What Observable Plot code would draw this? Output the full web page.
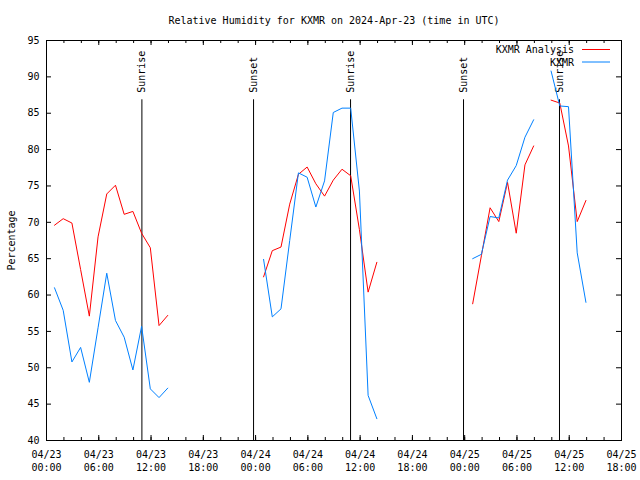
<!DOCTYPE html>
<html><head><meta charset="utf-8">
<script src="https://cdn.jsdelivr.net/npm/d3@7"></script>
<script src="https://cdn.jsdelivr.net/npm/@observablehq/plot@0.6"></script>
<style>body{margin:0;background:#fff}</style>
</head><body><div id="chart"></div>
<script>
const title = "Relative Humidity for KXMR on 2024-Apr-23 (time in UTC)";
const yLabel = "Percentage";
const seriesNames = ["KXMR Analysis", "KXMR"];
const seriesColors = ["#ff0000", "#0080ff"];
const dayStarts = ["2024-04-23T00:55Z", "2024-04-24T00:55Z", "2024-04-25T00:55Z"];
// hourly values, one per hour from each day start (null = missing)
const analysisDay1 = [69.6, 70.5, 69.9, 63.5, 57.1, 68.0, 73.9, 75.1, 71.1, 71.5, 68.5, 66.5, 55.8, 57.2];
const analysisDay2 = [62.5, 66.1, 66.6, 72.5, 76.6, 77.6, 75.3, 73.6, 75.8, 77.3, 76.4, 69.0, 60.4, 64.5];
const analysisDay3 = [58.8, 65.4, 72.0, 70.1, 75.5, 68.5, 77.9, 80.5, null, 86.8, 86.4, 80.5, 70.1, 73.0];
const obsDay1 = [61.0, 57.9, 50.8, 52.8, 48.0, 55.5, 63.0, 56.5, 54.2, 49.7, 55.7, 47.1, 45.9, 47.2];
const obsDay2 = [64.9, 57.0, 58.1, 67.5, 76.8, 76.2, 72.1, 75.7, 85.1, 85.7, 85.7, 74.3, 46.2, 43.0];
const obsDay3 = [65.0, 65.6, 70.8, 70.6, 75.8, 77.8, 81.7, 84.1, null, 90.8, 86.0, 85.9, 65.8, 59.0];
const eventTimes = ["2024-04-23T10:57Z", "2024-04-23T23:46Z", "2024-04-24T10:54Z", "2024-04-24T23:52Z", "2024-04-25T10:53Z"];
const eventLabels = ["Sunrise", "Sunset", "Sunrise", "Sunset", "Sunrise"];
const eventLineTop = 86.85;
const eventLabelY = 87.8;
const xDomain = ["2024-04-23T00:00Z", "2024-04-25T18:00Z"];
const yDomain = [40, 95];
const yTicks = [40, 45, 50, 55, 60, 65, 70, 75, 80, 85, 90, 95];

function build(days) {
  const out = [];
  days.forEach((vals, d) => {
    const t0 = new Date(dayStarts[d]).getTime();
    vals.forEach((v, i) => out.push({time: new Date(t0 + i * 3600e3), value: v, day: d}));
  });
  return out;
}
const analysis = build([analysisDay1, analysisDay2, analysisDay3]);
const obs = build([obsDay1, obsDay2, obsDay3]);
const events = eventTimes.map((t, i) => ({time: new Date(t), label: eventLabels[i]}));

const x0 = new Date(xDomain[0]), x1 = new Date(xDomain[1]);
const majorTicks = d3.utcHour.every(6).range(x0, new Date(+x1 + 1));
const minorTicks = d3.utcHour.every(2).range(x0, new Date(+x1 + 1));
const fmt = d3.utcFormat("%m/%d\n%H:%M");

const W = 640, H = 480, mL = 46, mR = 19, mT = 40, mB = 40;
const innerH = H - mT - mB, innerW = W - mL - mR;

const plot = Plot.plot({
  width: W, height: H,
  marginLeft: mL, marginRight: mR, marginTop: mT, marginBottom: mB,
  style: {fontFamily: "'DejaVu Sans Mono', monospace", fontSize: "10px", background: "#fff", color: "#000"},
  x: {type: "utc", domain: [x0, x1]},
  y: {domain: yDomain},
  marks: [
    Plot.axisX(majorTicks, {tickSize: 0, tickPadding: 8, tickFormat: fmt, lineHeight: 1.33, label: null, fontSize: 10}),
    Plot.axisY(yTicks, {tickSize: 0, tickPadding: 7, label: null, fontSize: 10}),
    Plot.tickX(minorTicks, {x: d => d, insetTop: innerH - 3, stroke: "#000"}),
    Plot.tickX(minorTicks, {x: d => d, insetBottom: innerH - 3, stroke: "#000"}),
    Plot.tickX(majorTicks, {x: d => d, insetTop: innerH - 5, stroke: "#000"}),
    Plot.tickX(majorTicks, {x: d => d, insetBottom: innerH - 5, stroke: "#000"}),
    Plot.tickY(yTicks, {y: d => d, insetRight: innerW - 5, stroke: "#000"}),
    Plot.tickY(yTicks, {y: d => d, insetLeft: innerW - 5, stroke: "#000"}),
    Plot.ruleX(events, {x: "time", y1: yDomain[0], y2: eventLineTop, stroke: "#000"}),
    Plot.text(events, {x: "time", y: eventLabelY, text: "label", rotate: -90, textAnchor: "start", fill: "#000"}),
    Plot.line(analysis, {x: "time", y: "value", z: "day", stroke: seriesColors[0], strokeWidth: 1}),
    Plot.line(obs, {x: "time", y: "value", z: "day", stroke: seriesColors[1], strokeWidth: 1}),
    Plot.frame({stroke: "#000"}),
    Plot.text([title], {frameAnchor: "top", dy: -20, lineAnchor: "middle", text: d => d, fill: "#000"}),
    Plot.text([yLabel], {frameAnchor: "left", dx: -35, rotate: -90, textAnchor: "middle", lineAnchor: "middle", text: d => d, fill: "#000"})
  ]
});

const svg = d3.select(plot);
const leg = svg.append("g").attr("font-family", "'DejaVu Sans Mono', monospace").attr("font-size", 10);
seriesNames.forEach((name, i) => {
  const y = 50 + i * 12.5;
  leg.append("text").attr("x", 574).attr("y", y).attr("dy", "0.32em").attr("text-anchor", "end").attr("fill", "#000").text(name);
  leg.append("line").attr("x1", 582).attr("x2", 610).attr("y1", y - 0.5).attr("y2", y - 0.5).attr("stroke", seriesColors[i]).attr("stroke-width", 1);
});
document.getElementById("chart").appendChild(plot);
</script>
</body></html>
